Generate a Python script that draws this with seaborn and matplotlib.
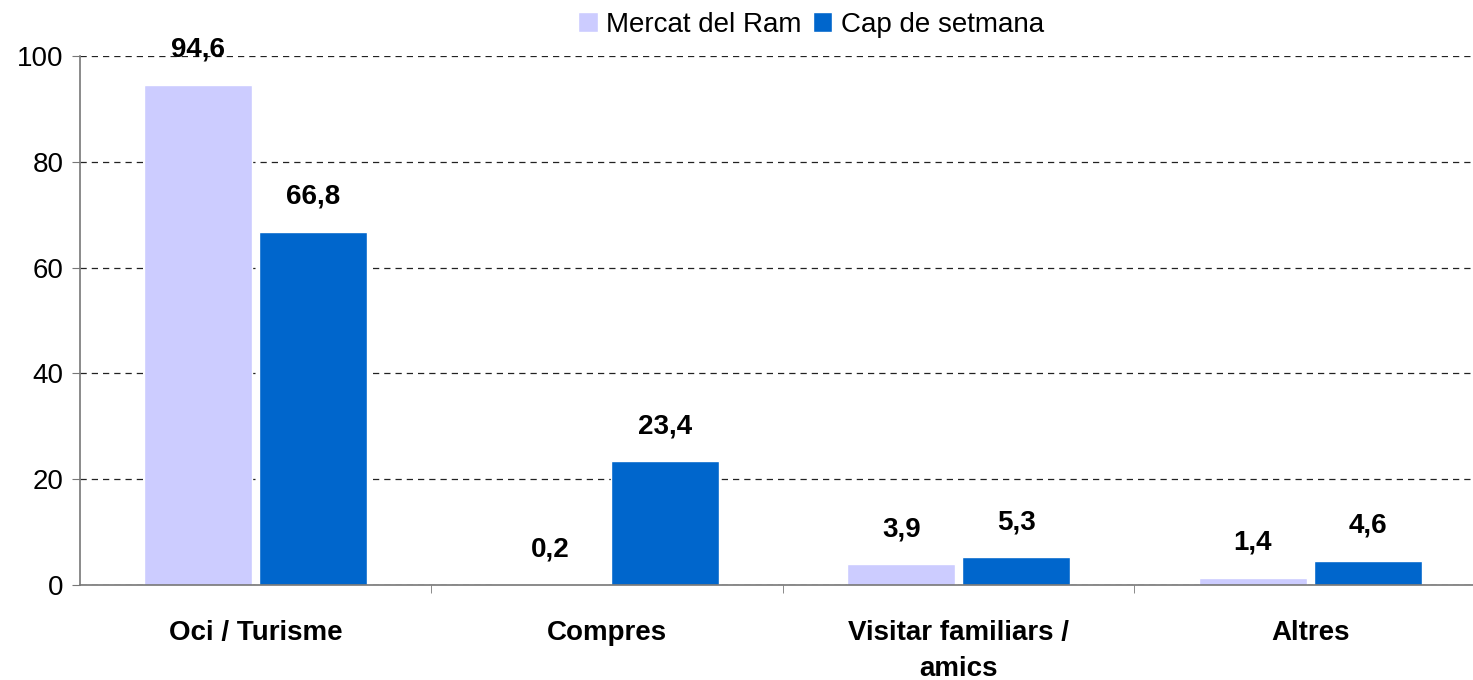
import matplotlib
matplotlib.use("Agg")
import matplotlib.pyplot as plt
import pandas as pd
import seaborn as sns

categories = ["Oci / Turisme", "Compres", "Visitar familiars /\namics", "Altres"]
series_names = ["Mercat del Ram", "Cap de setmana"]
mercat_ram = [94.6, 0.2, 3.9, 1.4]
cap_setmana = [66.8, 23.4, 5.3, 4.6]
colors = ["#CCCCFF", "#0066CC"]

df = pd.DataFrame({
    "cat": categories * 2,
    "serie": [series_names[0]] * 4 + [series_names[1]] * 4,
    "valor": mercat_ram + cap_setmana,
})

sns.set_style("white", rc={"text.color": "black", "xtick.color": "black", "ytick.color": "black"})
plt.rcParams["font.family"] = ["Liberation Sans", "DejaVu Sans"]

fig = plt.figure(figsize=(14.73, 6.8), dpi=100)
# axes run a little past the right edge, like the original chart
ax = fig.add_axes([0.0543, 0.1397, 0.9545, 0.7779])

sns.barplot(data=df, x="cat", y="valor", hue="serie", palette=colors,
            width=0.654, gap=0.06, saturation=1, ax=ax, legend=True)

ax.set_ylim(0, 100)
ax.set_xlim(-0.5, 3.5)
ax.set_yticks([0, 20, 40, 60, 80, 100])
ax.yaxis.grid(True, linestyle=(0, (5, 4)), color="#222222", linewidth=0.9)
ax.set_axisbelow(True)
ax.set_xlabel("")
ax.set_ylabel("")

for s in ["top", "right"]:
    ax.spines[s].set_visible(False)
for s in ["left", "bottom"]:
    ax.spines[s].set_color("#777777")
    ax.spines[s].set_linewidth(1.2)

ax.tick_params(axis="y", labelsize=20, length=6, color="#777777", direction="out",
               left=True, labelcolor="black", pad=6)
ax.tick_params(axis="x", which="major", length=0, pad=25, labelcolor="black")
ax.set_xticks([0.5, 1.5, 2.5], minor=True)
ax.tick_params(axis="x", which="minor", length=6, color="#777777", direction="out", bottom=True)
for lbl in ax.get_xticklabels():
    lbl.set_fontsize(20)
    lbl.set_fontweight("bold")
    lbl.set_verticalalignment("top")
    lbl.set_linespacing(1.5)

for cont in ax.containers:
    for bar, v in zip(cont, cont.datavalues):
        ax.annotate(f"{v:.1f}".replace(".", ","),
                    (bar.get_x() + bar.get_width() / 2, bar.get_height()),
                    xytext=(0, 25), textcoords="offset points",
                    ha="center", va="center", fontsize=20, fontweight="bold",
                    color="black", annotation_clip=False)

ax.legend(loc="upper center", bbox_to_anchor=(0.52, 1.105), ncol=2, frameon=False,
          fontsize=20, handlelength=0.7, handleheight=0.7, handletextpad=0.3,
          columnspacing=0.4, borderaxespad=0)

fig.savefig("out.png", dpi=100)
